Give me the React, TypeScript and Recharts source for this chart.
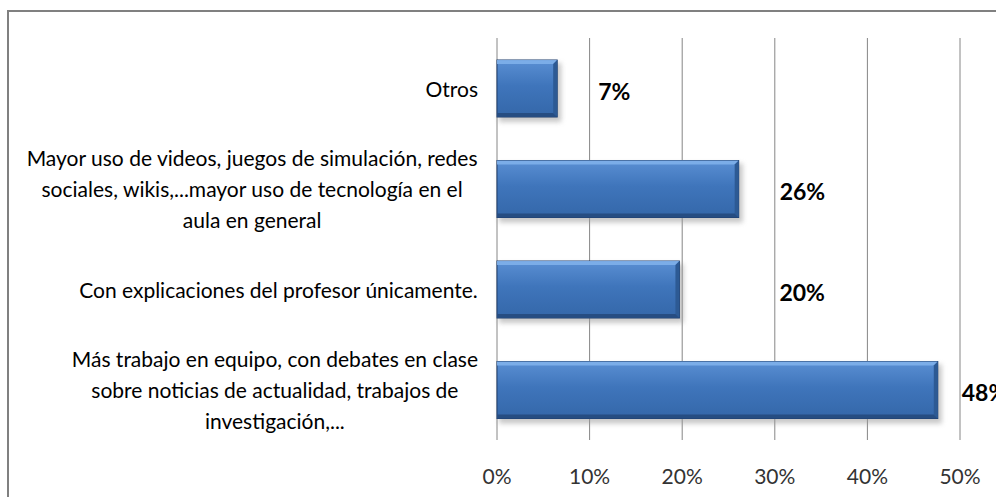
import React from "react";
import { BarChart, Bar, XAxis, YAxis, CartesianGrid, LabelList } from "recharts";

const categories = [
  "Otros",
  "Mayor uso de videos, juegos de simulación, redes\nsociales, wikis,...mayor uso de tecnología en el\naula en general",
  "Con explicaciones del profesor únicamente.",
  "Más trabajo en equipo, con debates en clase\nsobre noticias de actualidad, trabajos de\ninvestigación,...",
];
const values = [6.5, 26.1, 19.7, 47.6];
const xTicks = [0, 10, 20, 30, 40, 50];

const data = categories.map((name, i) => ({ name, value: values[i] }));

const FONT = "Lato, 'Open Sans', sans-serif";
const labelSize = 21;
// label nudges as placed in the original chart
const labelOffsets = [41, 41, 100, 24];

let ctx: CanvasRenderingContext2D | null = null;
function textWidth(s: string, font: string) {
  if (!ctx) ctx = document.createElement("canvas").getContext("2d");
  if (!ctx) return s.length * 9;
  ctx.font = font;
  return ctx.measureText(s).width;
}

function CategoryTick(props: any) {
  const { x, y, payload } = props;
  const lines: string[] = String(payload.value).split("\n");
  const lh = 31;
  const right = x - 19;
  const maxW = Math.max(...lines.map((l) => textWidth(l, `${labelSize}px Lato`)));
  const cx = right - maxW / 2;
  const top = y - ((lines.length - 1) * lh) / 2;
  return (
    <g>
      {lines.map((l, i) => (
        <text
          key={i}
          x={cx}
          y={top + i * lh}
          textAnchor="middle"
          dominantBaseline="central"
          fontFamily={FONT}
          fontSize={labelSize}
          fill="#000"
        >
          {l}
        </text>
      ))}
    </g>
  );
}

function PercentTick(props: any) {
  const { x, y, payload } = props;
  return (
    <text x={x} y={y + 35} textAnchor="middle" dominantBaseline="central" fontFamily={FONT} fontSize={21} fill="#333">
      {payload.value}%
    </text>
  );
}

function BevelBar(props: any) {
  const { x, y, width, height } = props;
  if (!width || width <= 0) return null;
  const b = 4;
  return (
    <g>
      <rect x={x + 2} y={y + 3} width={width + 2} height={height + 2} fill="#9a9a9a" opacity={0.55} filter="url(#barShadow)" />
      <rect x={x} y={y} width={width} height={height} fill="url(#barFill)" stroke="#1f3f6e" strokeWidth={1} />
      <polygon points={`${x},${y} ${x + width},${y} ${x + width - b},${y + b} ${x},${y + b}`} fill="#7fb0ea" opacity={0.9} />
      <polygon
        points={`${x + width},${y} ${x + width},${y + height} ${x + width - b},${y + height - b} ${x + width - b},${y + b}`}
        fill="#2d5a94"
      />
      <polygon
        points={`${x},${y + height} ${x + width},${y + height} ${x + width - b},${y + height - b} ${x},${y + height - b}`}
        fill="#264d82"
      />
    </g>
  );
}

function ValueLabel(props: any) {
  const { x, y, width, height, value, index } = props;
  return (
    <text
      x={x + width + labelOffsets[index]}
      y={y + height / 2 + 2}
      dominantBaseline="central"
      fontFamily={FONT}
      fontWeight="bold"
      fontSize={23}
      fill="#000"
    >
      {Math.round(value)}%
    </text>
  );
}

export default function App() {
  return (
    <div style={{ position: "fixed", left: 0, top: 0, width: 996, height: 497, overflow: "hidden", background: "#fff" }}>
      <div
        style={{
          position: "absolute",
          left: 7,
          top: 10,
          width: 1200,
          height: 700,
          borderLeft: "2px solid #808080",
          borderTop: "2px solid #808080",
        }}
      />
      <div style={{ position: "absolute", left: 0, top: 0 }}>
        <BarChart
          width={996}
          height={497}
          data={data}
          layout="vertical"
          margin={{ top: 38, right: 36, bottom: 10, left: 0 }}
        >
          <defs>
            <linearGradient id="barFill" x1="0" y1="0" x2="0" y2="1">
              <stop offset="0%" stopColor="#5a8fd3" />
              <stop offset="45%" stopColor="#3f75bb" />
              <stop offset="100%" stopColor="#3467a9" />
            </linearGradient>
            <filter id="barShadow" x="-10%" y="-30%" width="120%" height="160%">
              <feGaussianBlur stdDeviation="2.5" />
            </filter>
          </defs>
          <CartesianGrid horizontal={false} stroke="#868686" />
          <XAxis
            type="number"
            domain={[0, 50]}
            ticks={xTicks}
            axisLine={false}
            tickLine={false}
            tickSize={0}
            tickMargin={0}
            height={47}
            tick={<PercentTick />}
            interval={0}
          />
          <YAxis
            type="category"
            dataKey="name"
            width={497}
            axisLine={false}
            tickLine={false}
            tickSize={0}
            tickMargin={0}
            tick={<CategoryTick />}
            interval={0}
          />
          <Bar dataKey="value" barSize={57} shape={<BevelBar />} isAnimationActive={false}>
            <LabelList dataKey="value" content={<ValueLabel />} />
          </Bar>
        </BarChart>
      </div>
    </div>
  );
}
